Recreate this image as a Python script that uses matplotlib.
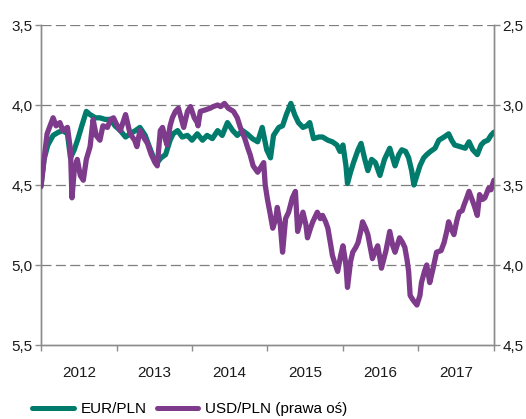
import matplotlib
matplotlib.use("Agg")
import matplotlib.pyplot as plt
from matplotlib.ticker import FixedLocator, NullFormatter

plt.rcParams['font.family'] = ['Liberation Sans', 'DejaVu Sans']

# EUR/PLN (lewa oś), czas w latach dziesiętnych
eur_t = [2012.00, 2012.04, 2012.09, 2012.16, 2012.23, 2012.29, 2012.35, 2012.39, 2012.44, 2012.49,
         2012.54, 2012.60, 2012.65, 2012.72, 2012.78, 2012.85, 2012.92, 2012.98, 2013.05, 2013.12,
         2013.18, 2013.25, 2013.31, 2013.38, 2013.45, 2013.50, 2013.54, 2013.59, 2013.65, 2013.71,
         2013.75, 2013.81, 2013.87, 2013.94, 2014.00, 2014.07, 2014.14, 2014.20, 2014.27, 2014.34,
         2014.40, 2014.47, 2014.54, 2014.60, 2014.67, 2014.73, 2014.80, 2014.87, 2014.93, 2014.99,
         2015.04, 2015.08, 2015.15, 2015.20, 2015.25, 2015.31, 2015.36, 2015.41, 2015.47, 2015.52,
         2015.56, 2015.61, 2015.68, 2015.73, 2015.80, 2015.86, 2015.92, 2015.96, 2016.00, 2016.04,
         2016.06, 2016.10, 2016.14, 2016.20, 2016.24, 2016.29, 2016.33, 2016.38, 2016.43, 2016.49,
         2016.55, 2016.62, 2016.69, 2016.74, 2016.78, 2016.83, 2016.87, 2016.91, 2016.94, 2016.98,
         2017.02, 2017.07, 2017.11, 2017.16, 2017.22, 2017.27, 2017.34, 2017.40, 2017.44, 2017.48,
         2017.55, 2017.62, 2017.67, 2017.72, 2017.78, 2017.83, 2017.87, 2017.92, 2017.96, 2018.00]
eur_v = [4.50, 4.34, 4.25, 4.19, 4.17, 4.16, 4.18, 4.33, 4.28, 4.21,
         4.13, 4.04, 4.06, 4.08, 4.08, 4.09, 4.09, 4.13, 4.16, 4.20,
         4.18, 4.16, 4.14, 4.19, 4.28, 4.34, 4.36, 4.33, 4.31, 4.22,
         4.18, 4.16, 4.20, 4.19, 4.22, 4.18, 4.22, 4.19, 4.21, 4.16,
         4.19, 4.11, 4.16, 4.19, 4.16, 4.18, 4.21, 4.23, 4.14, 4.28,
         4.33, 4.19, 4.14, 4.13, 4.06, 3.99, 4.06, 4.11, 4.14, 4.13,
         4.11, 4.21, 4.20, 4.20, 4.22, 4.23, 4.25, 4.29, 4.25, 4.38,
         4.49, 4.42, 4.36, 4.28, 4.24, 4.34, 4.41, 4.34, 4.36, 4.44,
         4.34, 4.27, 4.38, 4.31, 4.28, 4.29, 4.33, 4.41, 4.50, 4.44,
         4.38, 4.33, 4.31, 4.29, 4.27, 4.22, 4.20, 4.18, 4.22, 4.25,
         4.26, 4.27, 4.23, 4.28, 4.31, 4.25, 4.23, 4.22, 4.19, 4.17]

# USD/PLN (prawa oś)
usd_t = [2012.00, 2012.04, 2012.08, 2012.12, 2012.16, 2012.20, 2012.25, 2012.29, 2012.35, 2012.39,
         2012.41, 2012.44, 2012.48, 2012.52, 2012.56, 2012.60, 2012.65, 2012.69, 2012.73, 2012.78,
         2012.82, 2012.88, 2012.92, 2012.96, 2013.01, 2013.05, 2013.12, 2013.18, 2013.24, 2013.27,
         2013.31, 2013.37, 2013.41, 2013.46, 2013.51, 2013.54, 2013.58, 2013.61, 2013.65, 2013.67,
         2013.71, 2013.74, 2013.78, 2013.82, 2013.86, 2013.89, 2013.94, 2013.98, 2014.03, 2014.07,
         2014.08, 2014.11, 2014.18, 2014.24, 2014.28, 2014.34, 2014.38, 2014.43, 2014.48, 2014.55,
         2014.60, 2014.64, 2014.70, 2014.74, 2014.77, 2014.81, 2014.87, 2014.91, 2014.95, 2014.97,
         2015.00, 2015.04, 2015.07, 2015.11, 2015.13, 2015.17, 2015.20, 2015.24, 2015.28, 2015.33,
         2015.37, 2015.40, 2015.44, 2015.47, 2015.51, 2015.53, 2015.57, 2015.60, 2015.64, 2015.66,
         2015.70, 2015.73, 2015.77, 2015.80, 2015.84, 2015.86, 2015.90, 2015.93, 2015.97, 2016.00,
         2016.04, 2016.06, 2016.10, 2016.13, 2016.17, 2016.20, 2016.24, 2016.26, 2016.30, 2016.33,
         2016.37, 2016.39, 2016.43, 2016.46, 2016.49, 2016.51, 2016.57, 2016.62, 2016.66, 2016.69,
         2016.73, 2016.75, 2016.79, 2016.82, 2016.85, 2016.87, 2016.89, 2016.93, 2016.98, 2017.02,
         2017.04, 2017.08, 2017.11, 2017.15, 2017.19, 2017.24, 2017.30, 2017.34, 2017.38, 2017.40,
         2017.44, 2017.47, 2017.51, 2017.54, 2017.58, 2017.60, 2017.64, 2017.67, 2017.71, 2017.74,
         2017.78, 2017.81, 2017.85, 2017.88, 2017.93, 2017.96, 2018.00]
usd_v = [3.51, 3.34, 3.18, 3.13, 3.08, 3.13, 3.11, 3.16, 3.14, 3.28,
         3.58, 3.41, 3.34, 3.44, 3.47, 3.34, 3.26, 3.09, 3.19, 3.22,
         3.13, 3.14, 3.09, 3.08, 3.13, 3.16, 3.06, 3.18, 3.22, 3.26,
         3.16, 3.21, 3.24, 3.31, 3.36, 3.38, 3.16, 3.14, 3.22, 3.25,
         3.13, 3.08, 3.04, 3.02, 3.09, 3.14, 3.04, 3.01, 3.08, 3.11,
         3.13, 3.04, 3.03, 3.02, 3.01, 3.00, 3.01, 2.99, 3.02, 3.04,
         3.08, 3.14, 3.21, 3.27, 3.31, 3.38, 3.42, 3.39, 3.36, 3.50,
         3.59, 3.69, 3.77, 3.71, 3.64, 3.75, 3.92, 3.71, 3.67, 3.58,
         3.54, 3.79, 3.72, 3.67, 3.75, 3.83, 3.77, 3.73, 3.69, 3.67,
         3.71, 3.69, 3.73, 3.77, 3.88, 3.94, 4.00, 4.04, 3.94, 3.88,
         4.00, 4.14, 3.98, 3.92, 3.89, 3.86, 3.78, 3.73, 3.77, 3.81,
         3.91, 3.96, 3.91, 3.88, 3.96, 4.02, 3.91, 3.79, 3.88, 3.92,
         3.86, 3.83, 3.86, 3.89, 3.97, 4.04, 4.19, 4.22, 4.25, 4.19,
         4.11, 4.04, 4.00, 4.11, 4.03, 3.92, 3.91, 3.86, 3.78, 3.73,
         3.78, 3.81, 3.72, 3.67, 3.66, 3.63, 3.58, 3.54, 3.59, 3.63,
         3.69, 3.56, 3.59, 3.58, 3.52, 3.53, 3.47]

years = [2012, 2013, 2014, 2015, 2016, 2017]
left_ticks = [3.5, 4.0, 4.5, 5.0, 5.5]
right_ticks = [2.5, 3.0, 3.5, 4.0, 4.5]

teal = '#007B6C'
purple = '#7E3A8B'
axis_grey = '#8C8C8C'
text_col = '#1A1A1A'
fs = 11

fig = plt.figure(figsize=(5.26, 4.19), dpi=100)
ax = fig.add_axes([0.078, 0.1766, 0.861, 0.7637])
ax2 = ax.twinx()

ax.set_xlim(2012, 2018)
ax.set_ylim(5.5, 3.5)
ax2.set_ylim(4.5, 2.5)

# siatka przerywana
for v in left_ticks[:-1]:
    ax.axhline(v, color='#7F7F7F', lw=0.9, dashes=(8, 3.5), zorder=1)

l1, = ax.plot(eur_t, eur_v, color=teal, lw=3.8, solid_capstyle='round',
              solid_joinstyle='round', zorder=3, label='EUR/PLN')
l2, = ax2.plot(usd_t, usd_v, color=purple, lw=3.8, solid_capstyle='round',
               solid_joinstyle='round', zorder=3, label='USD/PLN (prawa oś)')

ax.set_yticks(left_ticks)
ax.set_yticklabels([f'{v:.1f}'.replace('.', ',') for v in left_ticks])
ax2.set_yticks(right_ticks)
ax2.set_yticklabels([f'{v:.1f}'.replace('.', ',') for v in right_ticks])

ax.xaxis.set_major_locator(FixedLocator(list(range(2012, 2019))))
ax.xaxis.set_major_formatter(NullFormatter())
ax.xaxis.set_minor_locator(FixedLocator([y + 0.5 for y in years]))
ax.set_xticklabels([str(y) for y in years], minor=True)
ax.tick_params(axis='x', which='minor', length=0, pad=15, labelsize=fs, labelcolor=text_col)
ax.tick_params(axis='x', which='major', length=4, width=1, color=axis_grey, direction='out')
ax.tick_params(axis='y', length=4, width=1, color=axis_grey, labelsize=fs,
               labelcolor=text_col, pad=2)
ax2.tick_params(axis='y', length=4, width=1, color=axis_grey, labelsize=fs,
                labelcolor=text_col, pad=2)

for a in (ax, ax2):
    a.spines['top'].set_visible(False)
    for s in ('left', 'right', 'bottom'):
        a.spines[s].set_color(axis_grey)
        a.spines[s].set_linewidth(1)

leg = fig.legend(handles=[l1, l2], loc='center left', bbox_to_anchor=(0.05, 10 / 419),
                 borderaxespad=0, ncol=2, frameon=False, fontsize=fs, handlelength=2.7,
                 handletextpad=0.45, columnspacing=0.7)
for h in leg.get_lines():
    h.set_linewidth(3.6)

fig.savefig('out.png', dpi=100)
